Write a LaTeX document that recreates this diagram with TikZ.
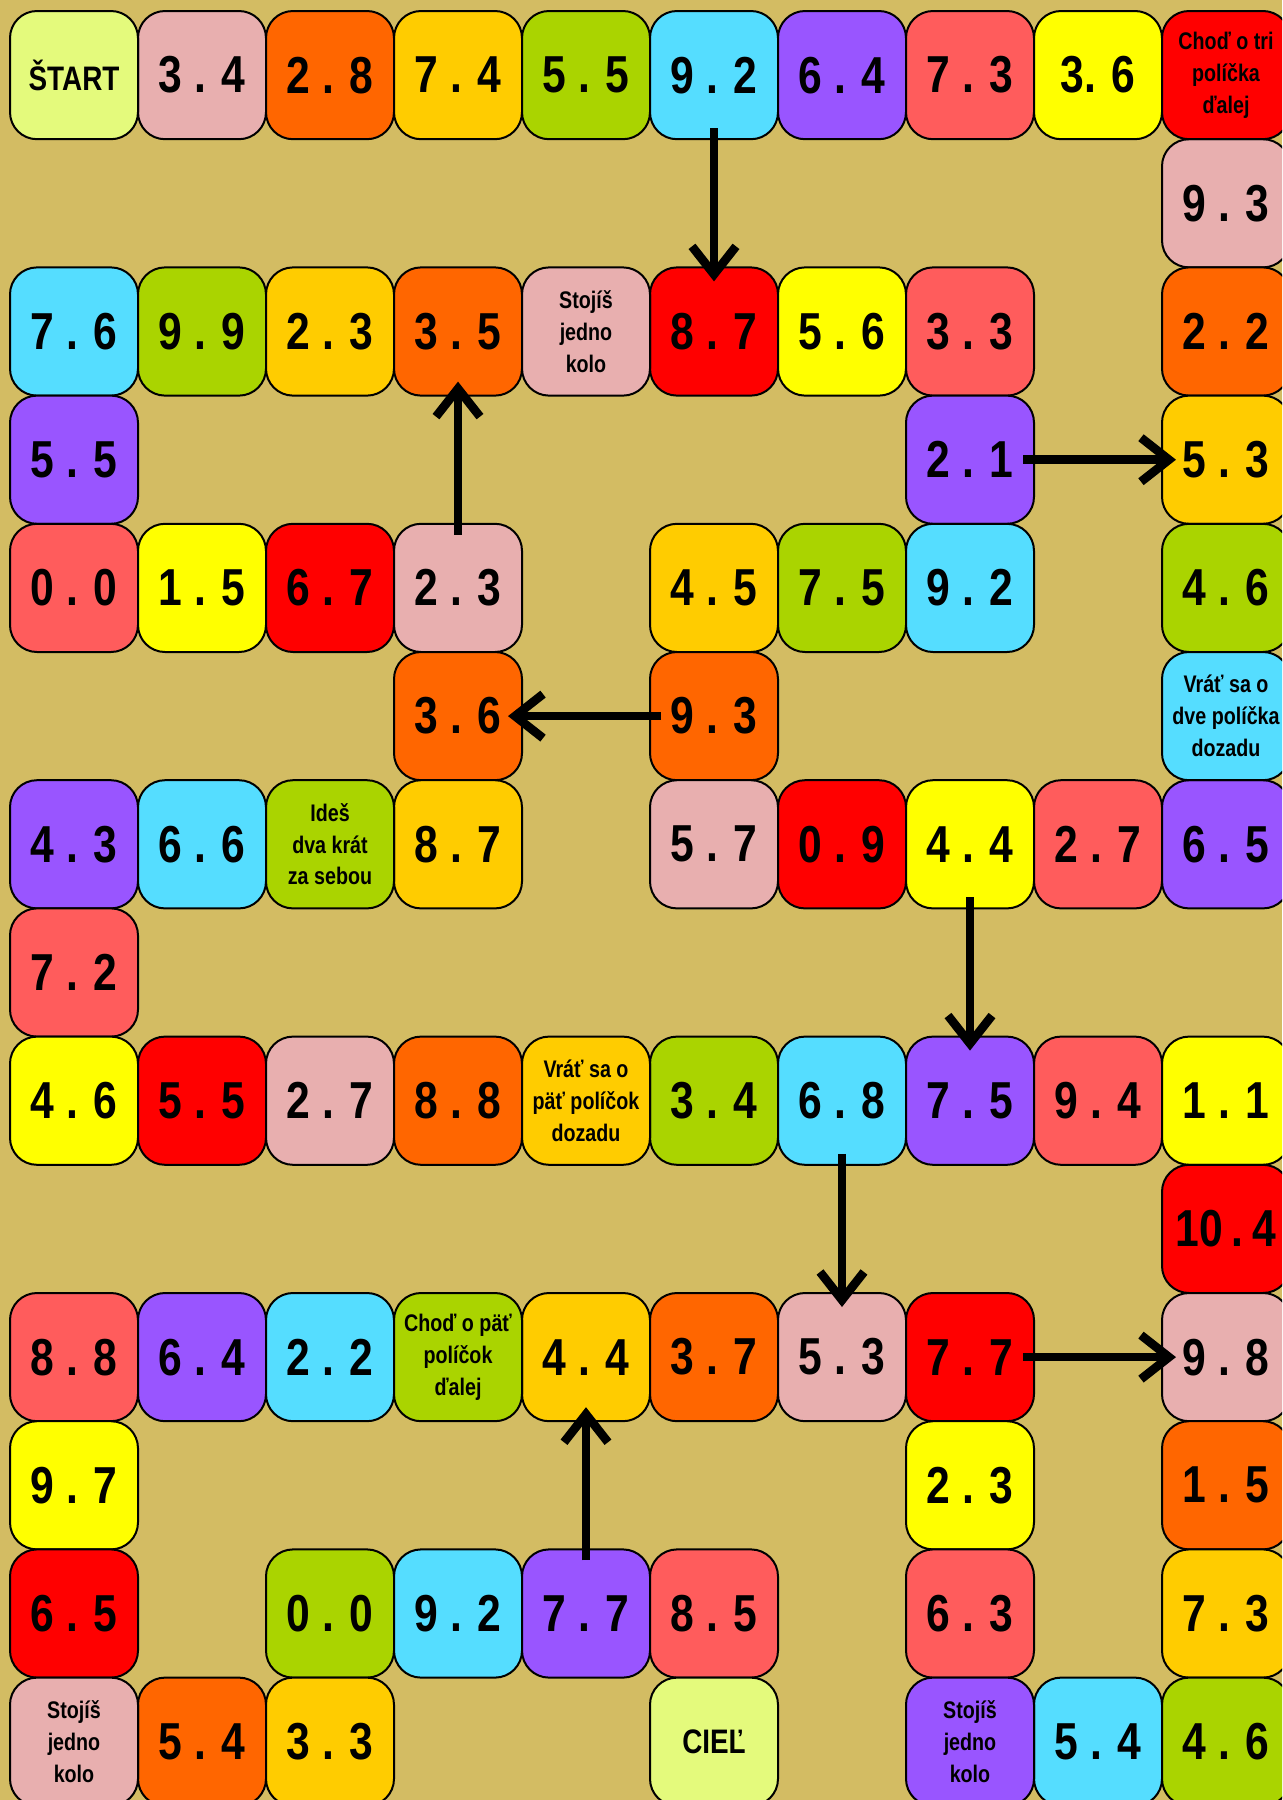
\documentclass[tikz,border=0pt]{standalone}
\usepackage{fontspec}
\setmainfont{Liberation Sans}[FakeStretch=0.82]
\usetikzlibrary{arrows.meta}

\definecolor{board}{RGB}{211,188,99}
\definecolor{start}{RGB}{228,250,124}
\definecolor{pink}{RGB}{232,175,175}
\definecolor{orange}{RGB}{255,102,0}
\definecolor{gold}{RGB}{255,204,0}
\definecolor{green}{RGB}{170,212,0}
\definecolor{cyan}{RGB}{85,221,255}
\definecolor{purple}{RGB}{153,85,255}
\definecolor{salmon}{RGB}{255,92,92}
\definecolor{yellow}{RGB}{255,255,0}
\definecolor{red}{RGB}{255,0,0}

\begin{document}
\begin{tikzpicture}[x=0.5pt,y=-0.5pt,
  field/.style={draw=black,line width=1pt,rounded corners=13.5pt,minimum width=64pt,
    minimum height=64.1pt,inner sep=0pt,outer sep=0pt,align=center},
  num/.style={field,font=\fontsize{26}{26}\bfseries},
  word/.style={field,font=\fontsize{17}{17}\bfseries},
  note/.style={field,font=\fontsize{12}{15.9}\bfseries},
  jump/.style={-{Straight Barb[length=14pt,width=22pt]},line width=4.35pt,
    shorten <=-5.5pt,shorten >=-7pt}]
  \useasboundingbox (0,0) rectangle (1282,1800);
  \clip (0,0) rectangle (1282,1800);
  \fill[board] (0,0) rectangle (1282,1800);

  % number fields: row/column/colour/value
  \foreach \row/\col/\fc/\lbl in {
    0/1/pink/3 . 4, 0/2/orange/2 . 8, 0/3/gold/7 . 4, 0/4/green/5 . 5,
    0/5/cyan/9 . 2, 0/6/purple/6 . 4, 0/7/salmon/7 . 3, 0/8/yellow/3. 6,
    1/9/pink/9 . 3,
    2/0/cyan/7 . 6, 2/1/green/9 . 9, 2/2/gold/2 . 3, 2/3/orange/3 . 5,
    2/5/red/8 . 7, 2/6/yellow/5 . 6, 2/7/salmon/3 . 3, 2/9/orange/2 . 2,
    3/0/purple/5 . 5, 3/7/purple/2 . 1, 3/9/gold/5 . 3,
    4/0/salmon/0 . 0, 4/1/yellow/1 . 5, 4/2/red/6 . 7, 4/3/pink/2 . 3,
    4/5/gold/4 . 5, 4/6/green/7 . 5, 4/7/cyan/9 . 2, 4/9/green/4 . 6,
    5/3/orange/3 . 6, 5/5/orange/9 . 3,
    6/0/purple/4 . 3, 6/1/cyan/6 . 6, 6/3/gold/8 . 7, 6/5/pink/5 . 7,
    6/6/red/0 . 9, 6/7/yellow/4 . 4, 6/8/salmon/2 . 7, 6/9/purple/6 . 5,
    7/0/salmon/7 . 2,
    8/0/yellow/4 . 6, 8/1/red/5 . 5, 8/2/pink/2 . 7, 8/3/orange/8 . 8,
    8/5/green/3 . 4, 8/6/cyan/6 . 8, 8/7/purple/7 . 5, 8/8/salmon/9 . 4,
    8/9/yellow/1 . 1,
    9/9/red/10\,.\,4,
    10/0/salmon/8 . 8, 10/1/purple/6 . 4, 10/2/cyan/2 . 2, 10/4/gold/4 . 4,
    10/5/orange/3 . 7, 10/6/pink/5 . 3, 10/7/red/7 . 7, 10/9/pink/9 . 8,
    11/0/yellow/9 . 7, 11/7/yellow/2 . 3, 11/9/orange/1 . 5,
    12/0/red/6 . 5, 12/2/green/0 . 0, 12/3/cyan/9 . 2, 12/4/purple/7 . 7,
    12/5/salmon/8 . 5, 12/7/salmon/6 . 3, 12/9/gold/7 . 3,
    13/1/orange/5 . 4, 13/2/gold/3 . 3, 13/8/cyan/5 . 4, 13/9/green/4 . 6}
    \node[num,fill=\fc] (c\row-\col) at ({74+128*\col},{75.1+128.2*\row}) {\lbl};

  % special fields
  \foreach \row/\col/\fc/\lbl in {
    0/9/red/Choď o tri\\políčka\\ďalej, 2/4/pink/Stojíš\\jedno\\kolo,
    5/9/cyan/Vráť sa o\\dve políčka\\dozadu, 6/2/green/Ideš\\dva krát\\za sebou,
    8/4/gold/Vráť sa o\\päť políčok\\dozadu, 10/3/green/Choď o päť\\políčok\\ďalej,
    13/0/pink/Stojíš\\jedno\\kolo, 13/7/purple/Stojíš\\jedno\\kolo}
    \node[note,fill=\fc] (c\row-\col) at ({74+128*\col},{75.1+128.2*\row}) {\lbl};
  \node[word,fill=start] (c0-0) at (74,75.1) {ŠTART};
  \node[word,fill=start] (c13-5) at ({74+128*5},{75.1+128.2*13}) {CIEĽ};

  % jumps
  \draw[jump] (c0-5.south) -- (c2-5.north);
  \draw[jump] (c4-3.north) -- (c2-3.south);
  \draw[jump] (c3-7.east) -- (c3-9.west);
  \draw[jump] (c5-5.west) -- (c5-3.east);
  \draw[jump] (c6-7.south) -- (c8-7.north);
  \draw[jump] (c8-6.south) -- (c10-6.north);
  \draw[jump] (c10-7.east) -- (c10-9.west);
  \draw[jump] (c12-4.north) -- (c10-4.south);
\end{tikzpicture}
\end{document}
